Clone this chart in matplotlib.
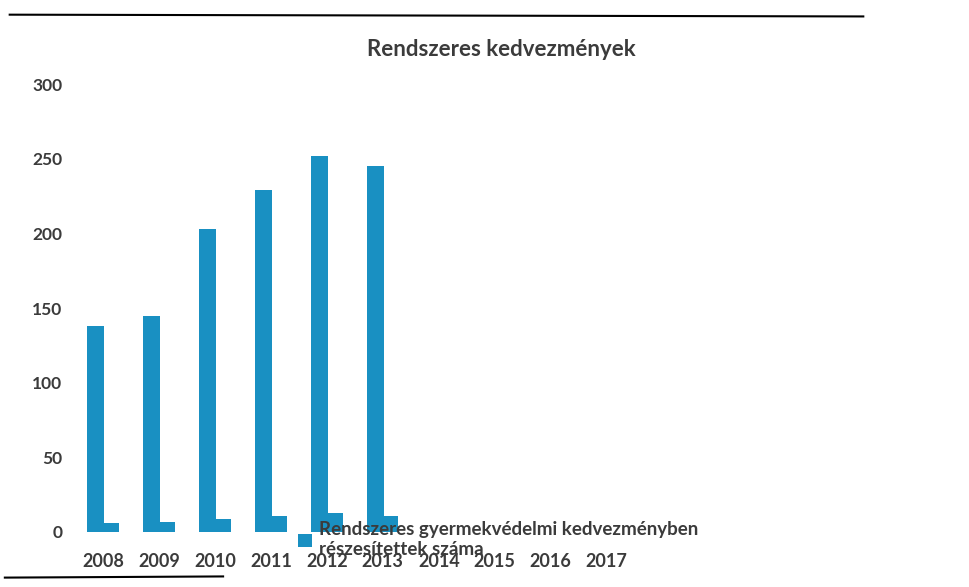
import matplotlib.pyplot as plt
from matplotlib.lines import Line2D
import numpy as np

# adatok
evek = ["2008", "2009", "2010", "2011", "2012", "2013", "2014", "2015", "2016", "2017"]
rendszeres = [138, 145, 203, 229, 252, 245, 0, 0, 0, 0]
masodik_sor = [6, 7, 9, 11, 13, 11, 0, 0, 0, 0]
y_ticks = [0, 50, 100, 150, 200, 250, 300]

kek = "#1990c2"
szurke = "#3b3b3b"
plt.rcParams['font.family'] = ['Lato', 'DejaVu Sans']
plt.rcParams['font.weight'] = 'bold'

fig = plt.figure(figsize=(9.7, 5.87), dpi=100)
ax = fig.add_axes([0.0773, 0.0937, 0.577, 0.763])

x = np.arange(len(evek))
main = ax.bar(x - 0.13, rendszeres, width=0.31, color=kek,
              label="Rendszeres gyermekvédelmi kedvezményben\nrészesítettek száma")
ax.bar(x + 0.15, masodik_sor, width=0.26, color=kek)

ax.set_xlim(-0.5, len(evek) - 0.5)
ax.set_ylim(0, 300)
ax.set_yticks(y_ticks)
ax.set_xticks(x)
ax.set_xticklabels(evek)
ax.tick_params(axis='y', length=0, pad=9, labelsize=12.5, labelcolor=szurke)
ax.tick_params(axis='x', length=0, pad=15, labelsize=13, labelcolor=szurke)
for s in ax.spines.values():
    s.set_visible(False)

fig.text(0.517, 0.915, "Rendszeres kedvezmények", ha='center', va='center',
         fontsize=16, fontweight='bold', color=szurke)

# a jelmagyarázat rálóg a tengelyfeliratokra, mint az eredetin
fig.legend(handles=[main], loc='upper left', bbox_to_anchor=(0.298, 0.128),
           frameon=False, fontsize=13.5, handlelength=0.7, handleheight=0.7,
           handletextpad=0.4, labelcolor=szurke, borderpad=0,
           labelspacing=0.2)

# szkennelési keretvonalak
fig.add_artist(Line2D([0.01, 0.89], [0.975, 0.972], color='black', lw=1.5))
fig.add_artist(Line2D([0.005, 0.23], [0.016, 0.018], color='black', lw=1.5))

fig.savefig("out.png", dpi=100)
